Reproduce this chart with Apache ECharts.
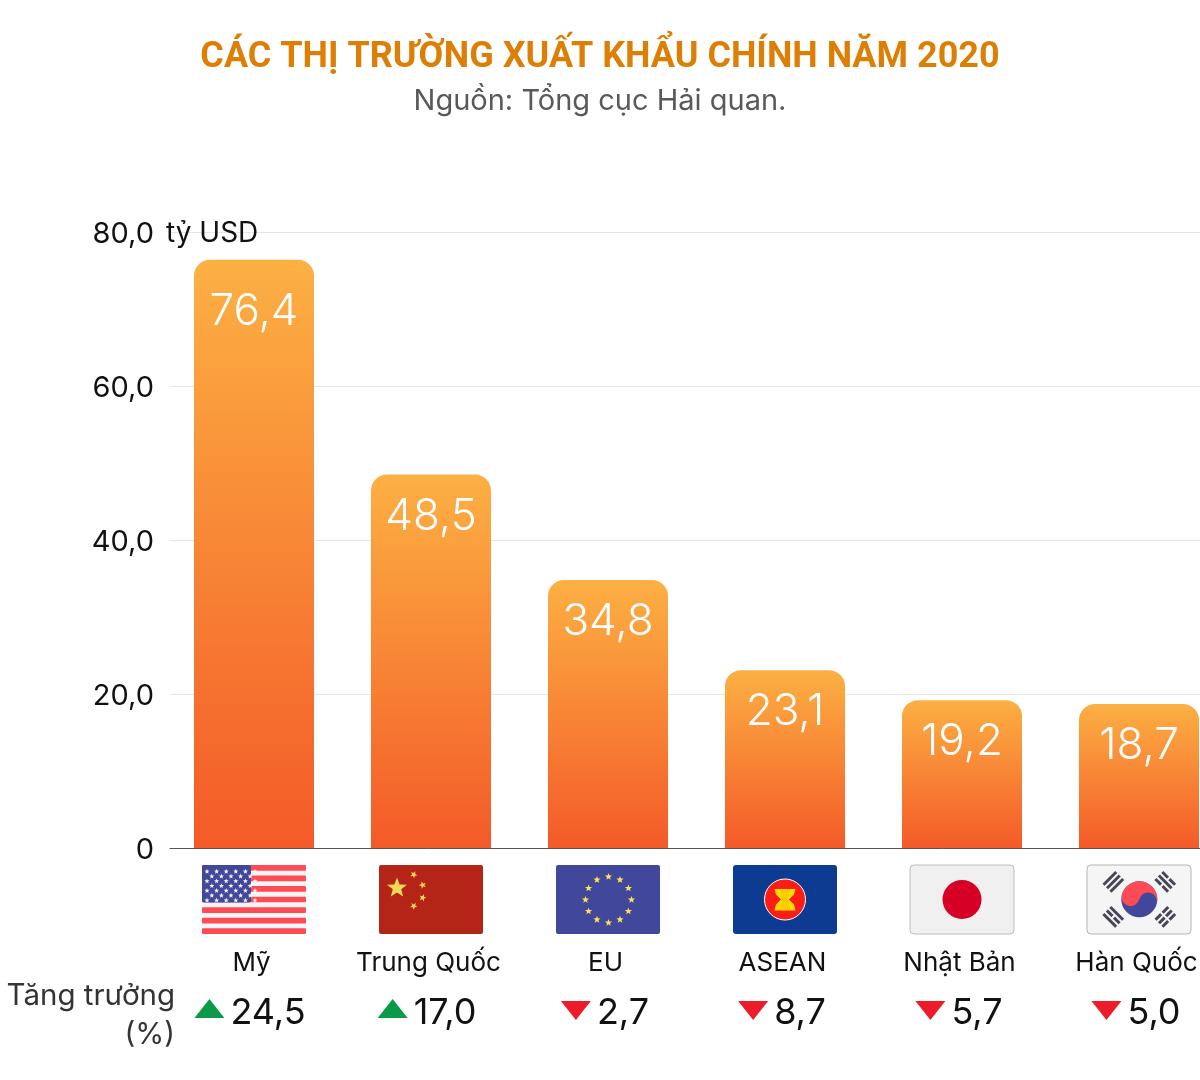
<!DOCTYPE html>
<html><head><meta charset="utf-8">
<style>html,body{margin:0;padding:0;background:#fff}#c{width:1200px;height:1080px}</style>
<script src="https://cdn.jsdelivr.net/npm/echarts@6/dist/echarts.min.js"></script>
</head><body><div id="c"></div>
<script>
const categories = ['Mỹ','Trung Quốc','EU','ASEAN','Nhật Bản','Hàn Quốc'];
const exportValues = [76.4,48.5,34.8,23.1,19.2,18.7];
const growthValues = [24.5,17.0,-2.7,-8.7,-5.7,-5.0];
const flagKinds = ['us','cn','eu','asean','jp','kr'];
const valueTicks = [0,20,40,60,80];

const FONT = 'Inter, Roboto, sans-serif';
const fmt = v => v.toFixed(1).replace('.', ',');
const measure = (() => { const c = document.createElement('canvas').getContext('2d');
  return (t, f) => { c.font = f; return c.measureText(t).width; }; })();

function starPts(cx, cy, R, rot) {
  const p = []; for (let k = 0; k < 10; k++) {
    const r = k % 2 ? R * 0.42 : R, a = -Math.PI / 2 + (rot || 0) + k * Math.PI / 5;
    p.push([cx + r * Math.cos(a), cy + r * Math.sin(a)]);
  } return p;
}
const star = (cx, cy, R, fill, rot) => ({type:'polygon', shape:{points:starPts(cx,cy,R,rot)}, style:{fill}});
const rect = (x,y,w,h,fill,r,stroke) => ({type:'rect', shape:{x,y,width:w,height:h,r:r||0}, style:{fill,stroke:stroke||null,lineWidth:stroke?1:0}});
const circle = (cx,cy,r,fill,stroke,lw) => ({type:'circle', shape:{cx,cy,r}, style:{fill,stroke:stroke||null,lineWidth:lw||0}});

function drawFlag(kind, x, y) {
  const W = 104, H = 69, out = [];
  if (kind === 'us') {
    out.push(rect(x,y,W,H,'#f5f5f5',2));
    for (let i = 0; i < 7; i++) out.push(rect(x, y + i * 10.55, W, 5.7, '#ff4b55', 1));
    out.push(rect(x,y,49,37.5,'#41479b',2));
    for (let r = 0; r < 7; r++) { const n = r % 2 ? 5 : 6;
      for (let c = 0; c < n; c++) out.push(star(x + 5 + (r % 2 ? 4.8 : 0) + c * 9.6, y + 6.5 + r * 4.8, 2.7, '#f5f5f5'));
    }
  } else if (kind === 'cn') {
    out.push(rect(x,y,W,H,'#b52517',2));
    out.push(star(x+18,y+23,10.5,'#f5d75a'));
    out.push(star(x+34.7,y+9.7,3.8,'#f5d75a',0.5));
    out.push(star(x+43.7,y+20,3.8,'#f5d75a',0.9));
    out.push(star(x+43.7,y+32.7,3.8,'#f5d75a',0.3));
    out.push(star(x+34.7,y+41,3.8,'#f5d75a',0.6));
  } else if (kind === 'eu') {
    out.push(rect(x,y,W,H,'#41479b',2));
    for (let k = 0; k < 12; k++) { const a = k * Math.PI / 6;
      out.push(star(x+52.5+23*Math.sin(a), y+34.7-23*Math.cos(a), 3.8, '#ffe15a'));
    }
  } else if (kind === 'asean') {
    out.push(rect(x,y,W,H,'#0d3b92',3));
    const cx = x+52, cy = y+34.5, yel = '#ffdc00';
    out.push(circle(cx,cy,20.5,'#fb1d16','#ffffff',1));
    out.push({type:'polygon', shape:{points:[[cx-10.5,cy-10.5],[cx+10.5,cy-10.5],[cx+9,cy-5],[cx+4,cy],[cx+9,cy+5],[cx+10.5,cy+11],[cx-10.5,cy+11],[cx-9,cy+5],[cx-4,cy],[cx-9,cy-5]]}, style:{fill:yel}});
    for (const dx of [-5,-2.5,0,2.5,5]) out.push({type:'line', shape:{x1:cx+dx,y1:cy-10.5,x2:cx+dx*0.4,y2:cy}, style:{stroke:'#f0a800',lineWidth:0.5}});
    for (const dx of [-5,-2.5,0,2.5,5]) out.push({type:'line', shape:{x1:cx+dx*0.4,y1:cy,x2:cx+dx,y2:cy+11}, style:{stroke:'#f0a800',lineWidth:0.5}});
  } else if (kind === 'jp') {
    out.push(rect(x,y,W,H,'#f0f0f0',4,'#bdbdbd'));
    out.push(circle(x+52,y+34.5,19.5,'#d60027'));
  } else {
    out.push(rect(x,y,W,H,'#f5f5f5',4,'#b5b5b5'));
    const cx = x+52.3, cy = y+34.3;
    out.push(circle(cx,cy,18,'#41479b'));
    out.push({type:'group', x:cx, y:cy, rotation:-0.25, children:[
      {type:'path', shape:{pathData:'M-18 0 A18 18 0 0 1 18 0 A9 9 0 0 0 0 0 A9 9 0 0 1 -18 0 Z', x:-18, y:-18, width:36, height:27, layout:'center'}, style:{fill:'#ff4b55'}}
    ]});
    const bars = (bx, by, ang, pattern) => {
      const g = {type:'group', x:bx, y:by, rotation:ang, children:[]};
      pattern.forEach((broken, i) => {
        const yy = -6.3 + i * 4.9;
        if (broken) { g.children.push(rect(-9,yy,8,3,'#464655')); g.children.push(rect(1,yy,8,3,'#464655')); }
        else g.children.push(rect(-9,yy,18,3,'#464655'));
      });
      return g;
    };
    out.push(bars(cx-26,cy-17.5, Math.PI/4, [0,0,0]));
    out.push(bars(cx+26,cy-17.5, -Math.PI/4, [1,0,1]));
    out.push(bars(cx-26,cy+17.5, -Math.PI/4, [0,1,0]));
    out.push(bars(cx+26,cy+17.5, Math.PI/4, [1,1,1]));
  }
  return out;
}

const growthFont = '400 36px Inter';
const nameFont = '400 26px Inter';
function renderBelow(params, api) {
  const i = api.value(0), pt = api.coord([i, 0]), cx = pt[0], ay = pt[1];
  const g = growthValues[i], txt = fmt(Math.abs(g));
  const tw = measure(txt, growthFont), total = 30 + 6 + tw, left = cx - (g >= 0 ? 4 : 3) - total / 2;
  const tri = g >= 0
    ? [[left, ay+170],[left+30, ay+170],[left+15, ay+151]]
    : [[left, ay+153],[left+30, ay+153],[left+15, ay+172]];
  return {type:'group', children: [
    ...drawFlag(flagKinds[i], cx - 52, ay + 17),
    {type:'text', style:{text:categories[i], x:cx-2.5, y:ay+115, font:nameFont, fill:'#111', textAlign:'center', textVerticalAlign:'middle'}},
    {type:'polygon', shape:{points:tri}, style:{fill: g >= 0 ? '#0b9a48' : '#ed1c2a'}},
    {type:'text', style:{text:txt, x:left+36, y:ay+165, font:growthFont, fill:'#111', textAlign:'left', textVerticalAlign:'middle'}}
  ]};
}

const barGradient = new echarts.graphic.LinearGradient(0,0,0,1,[{offset:0,color:'#fcb043'},{offset:1,color:'#f45a28'}]);

const chart = echarts.init(document.getElementById('c'), null, {renderer:'canvas', width:1200, height:1080});
chart.setOption({
  backgroundColor:'#fff',
  animation:false,
  title:{
    text:'CÁC THỊ TRƯỜNG XUẤT KHẨU CHÍNH NĂM 2020',
    subtext:'Nguồn: Tổng cục Hải quan.',
    left:'center', top:35, itemGap:11,
    textStyle:{fontFamily:'Roboto',fontWeight:'bold',fontSize:36,color:'#dd7f05'},
    subtextStyle:{fontFamily:FONT,fontWeight:400,fontSize:29,color:'#595959'}
  },
  grid:{left:170,top:232,right:0,height:616,containLabel:false},
  // 177 px per category: bars sit on a numeric position axis so that the last column ends at the page edge
  xAxis:{type:'value',min:(170-254)/177,max:(1200-254)/177,
    axisLine:{show:true,onZero:true,lineStyle:{color:'#555',width:1}},axisTick:{show:false},splitLine:{show:false},axisLabel:{show:false}
  },
  yAxis:{type:'value',min:valueTicks[0],max:valueTicks[valueTicks.length-1],interval:20,
    axisLine:{show:false},axisTick:{show:false},
    splitLine:{lineStyle:{color:'#e6e6e6',width:1}},
    axisLabel:{margin:16,fontFamily:FONT,fontSize:29,color:'#111',verticalAlign:'top',lineHeight:4,formatter:v=> v===0?'0':fmt(v)}
  },
  graphic:{z:1,elements:[
    {type:'rect',z2:0,shape:{x:160,y:230,width:115,height:4},style:{fill:'#fff'}},
    {type:'text',z2:10,x:166,y:234,style:{text:'tỷ USD',font:'400 28px Inter',fill:'#111',textVerticalAlign:'middle'}},
    {type:'text',z2:10,x:175,y:1016,style:{text:'Tăng trưởng\n(%)',font:'400 29.5px Inter',fill:'#333',textAlign:'right',textVerticalAlign:'middle',lineHeight:39}}
  ]},
  series:[
    {type:'bar',barWidth:120,z:2,
     data:exportValues.map((v,i)=>({value:[i,v],label:{distance:i===0?30:20}})),
     itemStyle:{color:barGradient,borderRadius:[16,16,0,0]},
     label:{show:true,position:'insideTop',fontFamily:FONT,fontWeight:300,fontSize:44,color:'#fff',formatter:p=>fmt(p.value[1])}
    },
    {type:'custom',z:3,silent:true,clip:false,data:categories.map((c,i)=>[i,0]),encode:{x:0,y:1},renderItem:renderBelow}
  ]
});
</script></body></html>
